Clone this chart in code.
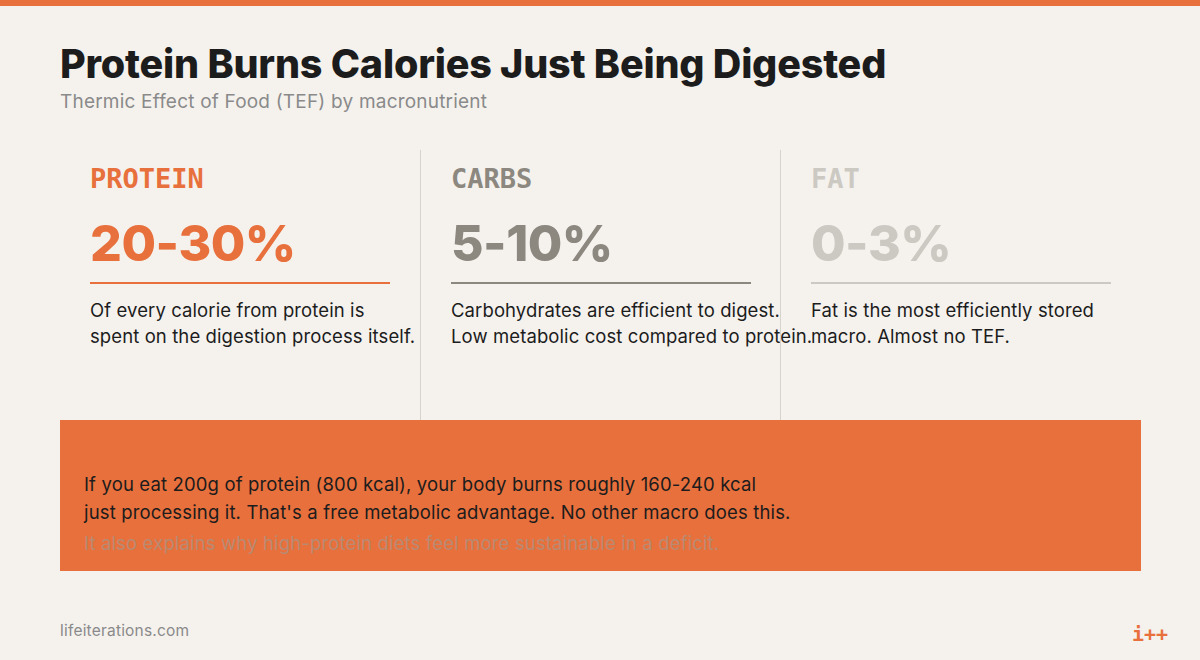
<!DOCTYPE html>
<html><head><meta charset="utf-8">
<script src="https://cdn.jsdelivr.net/npm/chart.js@4"></script>
<style>
body{margin:0;width:1200px;height:660px;background:#f5f2ee;font-family:Inter,"Open Sans",sans-serif;position:relative;overflow:hidden}
.top{position:absolute;left:0;top:0;width:1200px;height:6px;background:#e8703c}
h1{position:absolute;left:60px;top:40px;margin:0;font-size:39.5px;font-weight:800;color:#1c1c1c;letter-spacing:-0.2px}
.sub{position:absolute;left:60px;top:90px;font-size:19px;color:#8a8a8a;letter-spacing:0.2px}
.col{position:absolute;top:150px;width:330px;height:270px;padding-left:30px}
.col.b{border-left:1px solid #d6d2cc}
.lab{margin-top:13px;font-family:"DejaVu Sans Mono",monospace;font-weight:700;font-size:27px}
.num{margin-top:19px;font-weight:800;font-size:50px;letter-spacing:-0.5px;height:69px}
.line{width:300px;height:2px;margin-top:0}
.desc{margin-top:13px;font-size:18.5px;line-height:26px;color:#1c1c1c;white-space:nowrap;letter-spacing:0.1px}
.box{position:absolute;left:60px;top:420px;width:1081px;height:151px;background:#e8703c}
.box p{position:absolute;left:24px;margin:0;font-size:18.5px;color:#1c1c1c;letter-spacing:0.15px}
.foot{position:absolute;left:60px;top:621px;font-size:15.5px;color:#8a8a8a;letter-spacing:0.2px}
.logo{position:absolute;right:32px;top:622px;font-size:20px;font-weight:800;color:#e8703c;font-family:"DejaVu Sans Mono"}
</style></head><body>
<div class="top"></div>
<h1>Protein Burns Calories Just Being Digested</h1>
<div class="sub">Thermic Effect of Food (TEF) by macronutrient</div>
<div id="cols"></div>
<div class="box">
<p style="top:53px">If you eat 200g of protein (800 kcal), your body burns roughly 160-240 kcal</p>
<p style="top:81px">just processing it. That's a free metabolic advantage. No other macro does this.</p>
<p style="top:112px;color:#b98a72">It also explains why high-protein diets feel more sustainable in a deficit.</p>
</div>
<div class="foot">lifeiterations.com</div>
<div class="logo">i++</div>
<script>
const labels = ['PROTEIN', 'CARBS', 'FAT'];
const ranges = ['20-30%', '5-10%', '0-3%'];
const descs = [
  ['Of every calorie from protein is', 'spent on the digestion process itself.'],
  ['Carbohydrates are efficient to digest.', 'Low metabolic cost compared to protein.'],
  ['Fat is the most efficiently stored', 'macro. Almost no TEF.']
];
const colors = ['#e8703c', '#8c8880', '#ccc8c2'];
const cols = document.getElementById('cols');
labels.forEach((l, i) => {
  const d = document.createElement('div');
  d.className = 'col' + (i ? ' b' : '');
  d.style.left = (60 + i * 360) + 'px';
  d.innerHTML = `<div class="lab" style="color:${colors[i]}">${l}</div>
    <div class="num" style="color:${colors[i]}">${ranges[i]}</div>
    <div class="line" style="background:${colors[i]}"></div>
    <div class="desc">${descs[i].join('<br>')}</div>`;
  cols.appendChild(d);
});
</script>
</body></html>
